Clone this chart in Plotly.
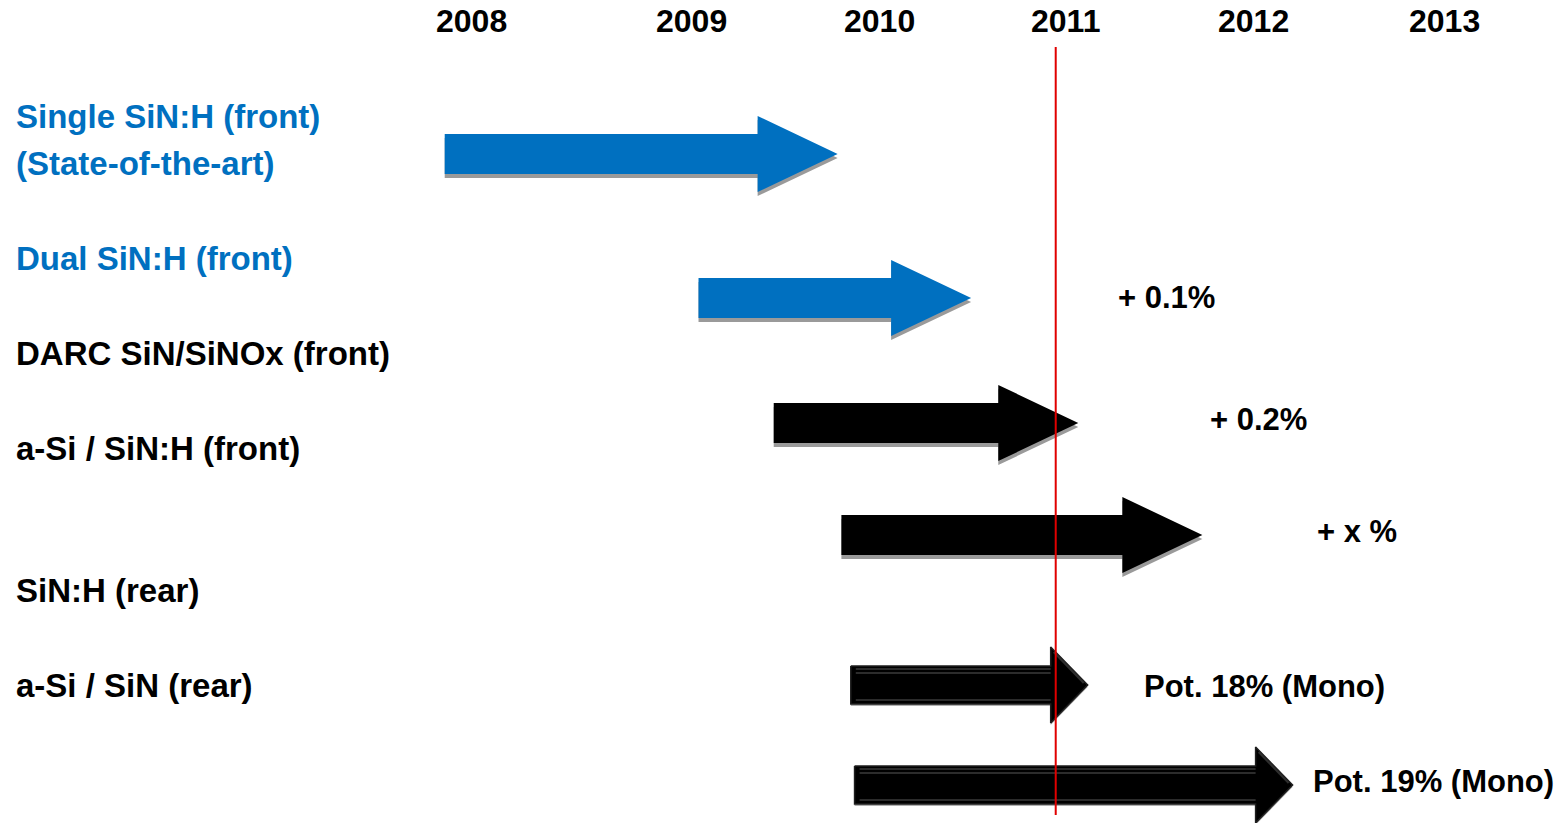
import plotly.graph_objects as go

BLUE = "#0070C0"
BLACK = "#000000"
RED = "#E00000"

# Left column: technology labels and their colours
ROW_LABELS = [
    "Single SiN:H (front)",
    "(State-of-the-art)",
    "Dual SiN:H (front)",
    "DARC SiN/SiNOx (front)",
    "a-Si / SiN:H (front)",
    "SiN:H (rear)",
    "a-Si / SiN (rear)",
]
ROW_LABEL_COLORS = [BLUE, BLUE, BLUE, BLACK, BLACK, BLACK, BLACK]

# Development periods: arrow start year and year reached by the arrow tip
ARROW_START = [2007.69, 2009.04, 2009.44, 2009.80, 2009.85, 2009.87]
ARROW_END = [2009.78, 2010.49, 2011.06, 2011.72, 2011.11, 2012.20]
ARROW_COLORS = [BLUE, BLUE, BLACK, BLACK, BLACK, BLACK]
ARROW_STYLE = ["flat", "flat", "flat", "flat", "bevel", "bevel"]

# Efficiency notes and the year at which each note starts
NOTE_TEXT = ["+ 0.1%", "+ 0.2%", "+ x %", "Pot. 18% (Mono)", "Pot. 19% (Mono)"]
NOTE_X = [2011.26, 2011.75, 2012.32, 2011.40, 2012.30]

# Timeline header
YEAR_LABELS = ["2008", "2009", "2010", "2011", "2012", "2013"]
YEAR_LABEL_X = [2007.835, 2009.0, 2010.0, 2010.99, 2011.99, 2013.01]
TODAY = 2010.94

# ---- layout (vertical positions, pixel rows from the top) ----
W, H = 1565, 823
PX_PER_YEAR = 188.0
X_ORIGIN_PX = 879.0  # where 2010 sits
ROW_LABEL_Y = [116, 163, 258, 353, 448, 590, 685]
ARROW_Y = [154, 298, 423, 535, 685, 785]
NOTE_Y = [297, 419, 531, 686, 781]
YEAR_Y = 21

x_range = [2010 - X_ORIGIN_PX / PX_PER_YEAR, 2010 + (W - X_ORIGIN_PX) / PX_PER_YEAR]
FONT = "Liberation Sans, Arial, sans-serif"
FS_ROW = 33
FS_YEAR = 32
FS_NOTE = 31

fig = go.Figure()


def arrow_poly(x0, x1, yc, body_half, head_half, head_len_px, dy=0.0):
    xh = x1 - head_len_px / PX_PER_YEAR
    xs = [x0, xh, xh, x1, xh, xh, x0, x0]
    ys = [yc - body_half, yc - body_half, yc - head_half, yc, yc + head_half,
          yc + body_half, yc + body_half, yc - body_half]
    return xs, [v + dy for v in ys]


for x0, x1, yc, col, style in zip(ARROW_START, ARROW_END, ARROW_Y, ARROW_COLORS, ARROW_STYLE):
    if style == "flat":
        sx, sy = arrow_poly(x0, x1, yc, 20, 38, 80, dy=4)
        fig.add_trace(go.Scatter(x=sx, y=sy, fill="toself", fillcolor="#9a9a9a",
                                 line=dict(width=0), mode="lines", hoverinfo="skip",
                                 showlegend=False))
        ax, ay = arrow_poly(x0, x1, yc, 20, 38, 80)
        fig.add_trace(go.Scatter(x=ax, y=ay, fill="toself", fillcolor=col,
                                 line=dict(width=0, color=col), mode="lines",
                                 hoverinfo="skip", showlegend=False))
    else:
        hl = 37
        sx, sy = arrow_poly(x0, x1, yc, 19, 38, hl, dy=2)
        fig.add_trace(go.Scatter(x=sx, y=sy, fill="toself", fillcolor="#b0b0b0",
                                 line=dict(width=0), mode="lines", hoverinfo="skip",
                                 showlegend=False))
        ax, ay = arrow_poly(x0, x1, yc, 19, 38, hl)
        fig.add_trace(go.Scatter(x=ax, y=ay, fill="toself", fillcolor=BLACK,
                                 line=dict(width=1.5, color="#1e1e1e"), mode="lines",
                                 hoverinfo="skip", showlegend=False))
        xh = x1 - hl / PX_PER_YEAR
        xb = x0 + 5 / PX_PER_YEAR
        # subtle bevel highlights along the shaft
        for off, c, w in [(-16, "#555555", 1.2), (-12, "#2c2c2c", 2), (15, "#3a3a3a", 1.5)]:
            fig.add_trace(go.Scatter(x=[xb, xh], y=[yc + off, yc + off], mode="lines",
                                     line=dict(color=c, width=w), hoverinfo="skip",
                                     showlegend=False))
        # bevel on the head edge
        fig.add_trace(go.Scatter(x=[xh + 3 / PX_PER_YEAR, x1 - 4 / PX_PER_YEAR],
                                 y=[yc - 33, yc - 2], mode="lines",
                                 line=dict(color="#2e2e2e", width=2), hoverinfo="skip",
                                 showlegend=False))

# current-date marker
fig.add_trace(go.Scatter(x=[TODAY, TODAY], y=[47, 815], mode="lines",
                         line=dict(color=RED, width=2), hoverinfo="skip", showlegend=False))

annotations = []
for txt, col, y in zip(ROW_LABELS, ROW_LABEL_COLORS, ROW_LABEL_Y):
    annotations.append(dict(x=14 / W, xref="paper", y=y, yref="y", text=txt,
                            xanchor="left", yanchor="middle", showarrow=False,
                            font=dict(family=FONT, size=FS_ROW, color=col, weight=700)))
for txt, x, y in zip(NOTE_TEXT, NOTE_X, NOTE_Y):
    annotations.append(dict(x=x, xref="x", y=y, yref="y", text=txt,
                            xanchor="left", yanchor="middle", showarrow=False,
                            font=dict(family=FONT, size=FS_NOTE, color=BLACK, weight=700)))
for txt, x in zip(YEAR_LABELS, YEAR_LABEL_X):
    annotations.append(dict(x=x, xref="x", y=YEAR_Y, yref="y", text=txt,
                            xanchor="center", yanchor="middle", showarrow=False,
                            font=dict(family=FONT, size=FS_YEAR, color=BLACK, weight=700)))

fig.update_layout(
    width=W, height=H,
    margin=dict(l=0, r=0, t=0, b=0),
    paper_bgcolor="white", plot_bgcolor="white",
    xaxis=dict(range=x_range, visible=False, fixedrange=True),
    yaxis=dict(range=[H, 0], visible=False, fixedrange=True),
    annotations=annotations,
    showlegend=False,
)

fig.write_html("out.html")
